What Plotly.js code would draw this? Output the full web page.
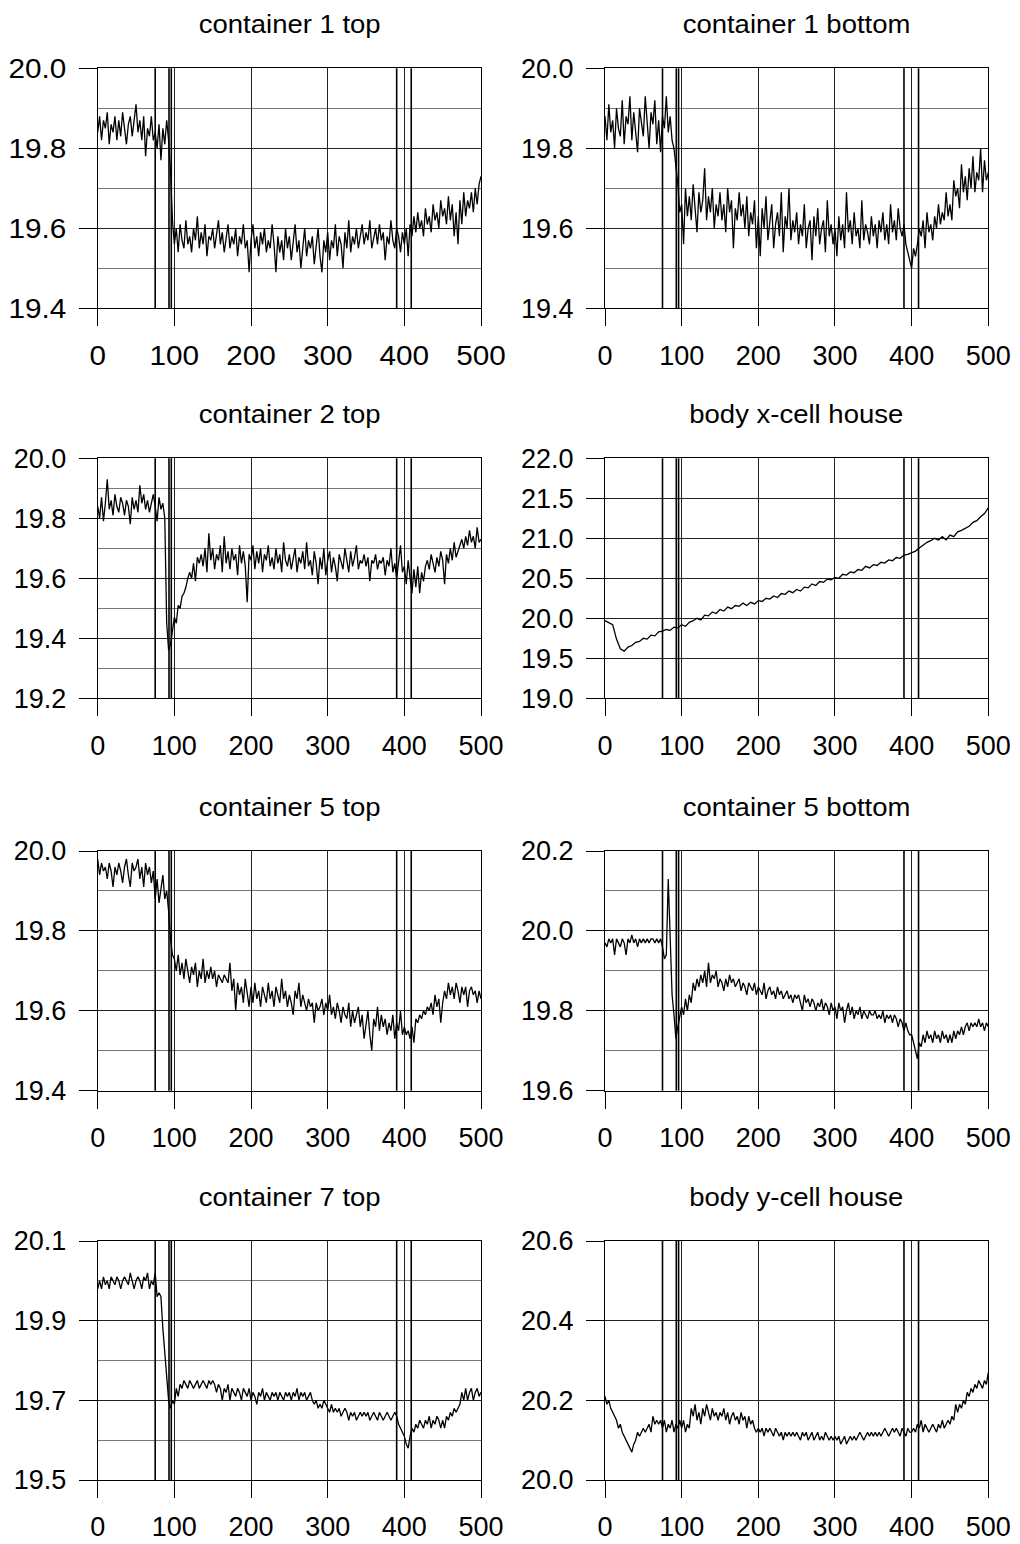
<!DOCTYPE html>
<html>
<head>
<meta charset="utf-8">
<script src="https://cdn.plot.ly/plotly-3.0.1.min.js"></script>
<style>html,body{margin:0;padding:0;background:#fff;}#chart{width:1020px;height:1544px;}</style>
</head>
<body>
<div id="chart"></div>
<script>
// ---------------- data ----------------
const panelTitles = ["container 1 top", "container 1 bottom", "container 2 top", "body x-cell house",
                     "container 5 top", "container 5 bottom", "container 7 top", "body y-cell house"];
const eventTimes = [75, 93, 96, 390, 409];
const xTickValues = [0, 100, 200, 300, 400, 500];

const container1Top = [
19.84,19.88,19.82,19.87,19.85,19.89,19.81,19.86,19.84,19.88,19.82,19.87,19.83,19.89,19.85,19.81,19.86,19.88,19.83,19.87,
19.91,19.84,19.87,19.82,19.88,19.78,19.85,19.83,19.88,19.82,19.84,19.80,19.86,19.77,19.85,19.81,19.87,19.82,19.74,19.62,
19.56,19.60,19.54,19.61,19.57,19.55,19.62,19.56,19.58,19.54,19.60,19.57,19.63,19.55,19.59,19.56,19.61,19.53,19.58,19.57,
19.60,19.55,19.58,19.62,19.56,19.59,19.54,19.57,19.61,19.55,19.58,19.56,19.60,19.53,19.58,19.56,19.61,19.55,19.57,19.49,
19.57,19.61,19.55,19.58,19.53,19.59,19.56,19.60,19.54,19.57,19.55,19.61,19.56,19.49,19.58,19.54,19.57,19.52,19.60,19.55,
19.58,19.52,19.56,19.61,19.54,19.57,19.50,19.56,19.60,19.53,19.57,19.55,19.58,19.51,19.56,19.60,19.53,19.49,19.57,19.54,
19.59,19.52,19.57,19.55,19.61,19.53,19.58,19.56,19.50,19.59,19.55,19.62,19.54,19.58,19.56,19.60,19.55,19.58,19.61,19.56,
19.59,19.57,19.62,19.55,19.58,19.60,19.56,19.61,19.57,19.59,19.52,19.58,19.56,19.62,19.57,19.55,19.60,19.58,19.54,19.59,
19.56,19.60,19.53,19.61,19.58,19.63,19.59,19.64,19.60,19.62,19.58,19.65,19.61,19.63,19.59,19.66,19.62,19.64,19.60,19.67,
19.63,19.65,19.61,19.68,19.62,19.66,19.58,19.64,19.56,19.67,19.61,19.69,19.63,19.67,19.65,19.69,19.64,19.70,19.66,19.71,
19.73];

const container1Bottom = [
19.88,19.82,19.91,19.84,19.87,19.80,19.90,19.85,19.83,19.92,19.81,19.88,19.86,19.93,19.82,19.89,19.84,19.79,19.90,19.86,
19.83,19.93,19.85,19.80,19.89,19.86,19.92,19.81,19.87,19.79,19.88,19.85,19.93,19.84,19.88,19.82,19.80,19.76,19.71,19.64,
19.66,19.56,19.70,19.63,19.68,19.62,19.71,19.65,19.59,19.69,19.64,19.67,19.75,19.62,19.68,19.64,19.70,19.60,19.66,19.63,
19.69,19.62,19.66,19.59,19.70,19.64,19.67,19.55,19.65,19.62,19.69,19.63,19.66,19.60,19.68,19.58,19.64,19.61,19.67,19.55,
19.63,19.53,19.65,19.60,19.68,19.57,19.62,19.66,19.55,19.61,19.64,19.58,19.69,19.54,19.63,19.60,19.70,19.57,19.62,19.59,
19.64,19.56,19.61,19.58,19.66,19.55,19.60,19.62,19.52,19.63,19.58,19.65,19.56,19.60,19.62,19.54,19.67,19.58,19.61,19.56,
19.60,19.53,19.63,19.57,19.61,19.55,19.69,19.59,19.62,19.56,19.64,19.58,19.60,19.55,19.67,19.57,19.61,19.59,19.56,19.63,
19.58,19.61,19.55,19.62,19.59,19.64,19.57,19.61,19.56,19.66,19.59,19.62,19.57,19.65,19.60,19.58,19.61,19.56,19.54,19.52,
19.50,19.55,19.53,19.56,19.60,19.58,19.62,19.55,19.64,19.59,19.61,19.57,19.63,19.60,19.66,19.61,19.64,19.62,19.69,19.63,
19.66,19.62,19.72,19.68,19.70,19.65,19.76,19.69,19.73,19.67,19.75,19.70,19.78,19.69,19.74,19.72,19.80,19.69,19.77,19.72,
19.74];

const container2Top = [
19.84,19.80,19.87,19.79,19.85,19.93,19.83,19.86,19.81,19.88,19.84,19.82,19.87,19.85,19.81,19.86,19.84,19.78,19.87,19.83,
19.86,19.82,19.91,19.85,19.88,19.83,19.86,19.82,19.85,19.88,19.84,19.79,19.87,19.83,19.85,19.80,19.45,19.36,19.38,19.42,
19.47,19.45,19.51,19.50,19.54,19.55,19.57,19.60,19.62,19.60,19.65,19.59,19.67,19.65,19.68,19.64,19.70,19.62,19.75,19.66,
19.70,19.63,19.68,19.66,19.71,19.62,19.74,19.65,19.69,19.63,19.70,19.66,19.68,19.61,19.71,19.65,19.69,19.64,19.52,19.68,
19.66,19.71,19.63,19.69,19.65,19.70,19.62,19.68,19.66,19.71,19.64,19.67,19.63,19.70,19.65,19.68,19.62,19.72,19.66,19.64,
19.68,19.63,19.66,19.70,19.62,19.67,19.65,19.69,19.63,19.72,19.64,19.66,19.61,19.69,19.65,19.58,19.67,19.63,19.70,19.61,
19.66,19.69,19.62,19.67,19.64,19.59,19.68,19.65,19.63,19.70,19.66,19.62,19.69,19.64,19.67,19.71,19.63,19.66,19.65,19.68,
19.64,19.67,19.59,19.66,19.65,19.68,19.63,19.66,19.65,19.67,19.61,19.66,19.64,19.70,19.62,19.65,19.60,19.66,19.71,19.62,
19.64,19.58,19.66,19.60,19.55,19.63,19.57,19.64,19.55,19.62,19.59,19.64,19.66,19.63,19.68,19.65,19.62,19.67,19.64,19.69,
19.66,19.58,19.68,19.65,19.70,19.66,19.72,19.67,19.69,19.71,19.73,19.70,19.74,19.71,19.76,19.72,19.74,19.70,19.77,19.72,
19.73];

// body x-cell house is sampled every 5 time units
const bodyXCellHouse = [
19.97,19.95,19.92,19.74,19.62,19.59,19.64,19.66,19.70,19.71,
19.75,19.74,19.79,19.78,19.83,19.84,19.86,19.85,19.89,19.88,
19.92,19.90,19.95,19.97,20.00,19.98,20.04,20.03,20.08,20.06,
20.11,20.09,20.14,20.12,20.16,20.15,20.19,20.16,20.20,20.18,
20.22,20.21,20.25,20.24,20.28,20.26,20.31,20.30,20.34,20.32,
20.36,20.34,20.39,20.38,20.43,20.41,20.46,20.45,20.49,20.48,
20.51,20.50,20.55,20.54,20.58,20.57,20.61,20.60,20.65,20.63,
20.67,20.66,20.70,20.69,20.73,20.72,20.76,20.75,20.79,20.80,
20.82,20.84,20.88,20.92,20.95,20.97,21.00,20.98,21.02,20.98,
21.04,21.02,21.08,21.10,21.13,21.15,21.20,21.22,21.27,21.31,
21.38];

const container5Top = [
19.98,19.94,19.97,19.95,19.96,19.93,19.97,19.95,19.91,19.96,19.94,19.97,19.95,19.92,19.96,19.98,19.94,19.91,19.97,19.95,
19.96,19.98,19.93,19.96,19.91,19.97,19.94,19.96,19.92,19.95,19.88,19.93,19.87,19.91,19.94,19.88,19.90,19.85,19.78,19.74,
19.73,19.70,19.74,19.69,19.72,19.68,19.73,19.70,19.67,19.71,19.69,19.72,19.66,19.70,19.68,19.73,19.67,19.70,19.68,19.71,
19.68,19.70,19.66,19.69,19.68,19.67,19.69,19.68,19.67,19.72,19.65,19.68,19.60,19.67,19.64,19.66,19.62,19.68,19.64,19.61,
19.66,19.62,19.67,19.63,19.65,19.61,19.66,19.64,19.62,19.67,19.63,19.65,19.61,19.66,19.64,19.62,19.68,19.63,19.65,19.61,
19.64,19.62,19.59,19.65,19.63,19.67,19.61,19.64,19.62,19.60,19.63,19.61,19.62,19.57,19.62,19.60,19.61,19.63,19.59,19.62,
19.60,19.64,19.59,19.61,19.58,19.62,19.60,19.57,19.61,19.59,19.58,19.62,19.56,19.60,19.57,19.59,19.61,19.56,19.59,19.53,
19.57,19.60,19.54,19.50,19.58,19.56,19.61,19.55,19.59,19.56,19.58,19.54,19.57,19.55,19.59,19.53,19.57,19.55,19.60,19.54,
19.56,19.54,19.55,19.53,19.56,19.52,19.58,19.57,19.59,19.58,19.60,19.59,19.61,19.60,19.62,19.59,19.64,19.61,19.63,19.57,
19.62,19.65,19.63,19.67,19.64,19.66,19.63,19.67,19.65,19.62,19.66,19.64,19.66,19.61,19.65,19.66,19.64,19.65,19.62,19.65,
19.63];

const container5Bottom = [
19.97,19.96,19.98,19.97,19.98,19.94,19.98,19.97,19.96,19.98,19.97,19.94,19.98,19.97,19.99,19.97,19.98,19.96,19.98,19.97,
19.98,19.97,19.98,19.97,19.98,19.98,19.97,19.98,19.97,19.98,19.96,19.93,19.94,20.13,19.98,19.84,19.79,19.73,19.76,19.79,
19.81,19.79,19.83,19.80,19.84,19.82,19.87,19.85,19.88,19.86,19.89,19.87,19.90,19.86,19.92,19.87,19.89,19.88,19.90,19.86,
19.88,19.87,19.85,19.88,19.86,19.89,19.87,19.88,19.86,19.87,19.88,19.85,19.87,19.86,19.84,19.87,19.86,19.85,19.87,19.84,
19.86,19.85,19.84,19.87,19.83,19.85,19.86,19.84,19.85,19.83,19.86,19.84,19.85,19.83,19.84,19.85,19.83,19.84,19.82,19.84,
19.83,19.84,19.82,19.80,19.84,19.82,19.83,19.81,19.83,19.82,19.80,19.82,19.81,19.83,19.80,19.82,19.81,19.79,19.82,19.80,
19.81,19.78,19.82,19.80,19.81,19.77,19.80,19.82,19.79,19.81,19.78,19.80,19.79,19.81,19.78,19.80,19.79,19.78,19.80,19.79,
19.79,19.80,19.78,19.79,19.78,19.80,19.77,19.79,19.78,19.79,19.77,19.79,19.78,19.76,19.78,19.77,19.75,19.77,19.75,19.74,
19.74,19.72,19.70,19.68,19.72,19.71,19.74,19.72,19.75,19.73,19.74,19.72,19.75,19.73,19.74,19.72,19.75,19.73,19.74,19.72,
19.74,19.72,19.75,19.73,19.75,19.74,19.76,19.74,19.76,19.77,19.75,19.77,19.76,19.77,19.76,19.78,19.76,19.77,19.75,19.77,
19.76];

const container7Top = [
19.98,20.00,19.98,20.01,19.99,20.00,19.98,20.01,20.00,19.99,20.01,20.00,19.98,20.00,20.01,20.00,19.99,20.02,20.00,19.98,
20.00,20.01,20.00,19.98,20.01,20.00,20.02,19.98,20.00,19.99,20.02,19.96,19.97,19.96,19.88,19.82,19.75,19.70,19.68,19.70,
19.69,19.73,19.71,19.74,19.73,19.75,19.74,19.73,19.75,19.74,19.73,19.74,19.75,19.73,19.74,19.75,19.74,19.73,19.75,19.74,
19.75,19.74,19.72,19.74,19.73,19.70,19.73,19.72,19.74,19.70,19.73,19.72,19.71,19.73,19.72,19.70,19.73,19.72,19.71,19.73,
19.70,19.72,19.71,19.69,19.72,19.71,19.73,19.70,19.72,19.71,19.70,19.72,19.71,19.72,19.70,19.72,19.71,19.70,19.72,19.71,
19.72,19.70,19.72,19.71,19.73,19.70,19.72,19.71,19.72,19.70,19.71,19.72,19.70,19.69,19.70,19.68,19.69,19.68,19.70,19.69,
19.68,19.67,19.69,19.67,19.68,19.67,19.68,19.66,19.67,19.68,19.67,19.65,19.67,19.66,19.67,19.65,19.66,19.67,19.66,19.67,
19.66,19.67,19.65,19.66,19.67,19.66,19.65,19.67,19.66,19.65,19.66,19.67,19.66,19.65,19.66,19.67,19.66,19.64,19.63,19.62,
19.61,19.59,19.58,19.61,19.63,19.62,19.64,19.63,19.65,19.64,19.63,19.65,19.64,19.66,19.63,19.65,19.64,19.66,19.65,19.63,
19.65,19.63,19.66,19.65,19.67,19.66,19.68,19.67,19.68,19.69,19.72,19.70,19.73,19.70,19.72,19.73,19.70,19.72,19.73,19.71,
19.72];

const bodyYCellHouse = [
20.21,20.19,20.20,20.18,20.17,20.16,20.15,20.13,20.14,20.12,20.11,20.10,20.09,20.08,20.07,20.09,20.10,20.12,20.11,20.12,
20.13,20.12,20.13,20.14,20.12,20.16,20.14,20.15,20.14,20.15,20.13,20.15,20.12,20.14,20.13,20.15,20.12,20.14,20.13,20.15,
20.13,20.15,20.12,20.14,20.13,20.18,20.16,20.19,20.15,20.17,20.14,20.18,20.16,20.19,20.17,20.15,20.18,20.16,20.17,20.15,
20.17,20.16,20.18,20.15,20.17,20.14,20.16,20.17,20.15,20.16,20.14,20.17,20.15,20.16,20.13,20.16,20.14,20.15,20.13,20.12,
20.13,20.12,20.13,20.11,20.13,20.12,20.13,20.12,20.11,20.13,20.12,20.11,20.12,20.10,20.12,20.11,20.12,20.11,20.12,20.11,
20.12,20.11,20.10,20.12,20.11,20.12,20.10,20.11,20.12,20.10,20.11,20.12,20.10,20.11,20.10,20.12,20.11,20.10,20.11,20.10,
20.11,20.10,20.11,20.09,20.10,20.11,20.09,20.10,20.11,20.10,20.11,20.10,20.11,20.12,20.11,20.10,20.11,20.12,20.11,20.12,
20.11,20.12,20.11,20.12,20.11,20.12,20.13,20.12,20.11,20.12,20.13,20.12,20.13,20.12,20.11,20.13,20.12,20.11,20.13,20.12,
20.12,20.13,20.12,20.14,20.13,20.15,20.12,20.14,20.13,20.12,20.13,20.14,20.13,20.12,20.14,20.13,20.15,20.13,20.14,20.15,
20.14,20.16,20.15,20.19,20.17,20.19,20.18,20.20,20.19,20.22,20.21,20.23,20.22,20.24,20.23,20.25,20.24,20.23,20.25,20.24,
20.27];

const seriesValues = [container1Top, container1Bottom, container2Top, bodyXCellHouse,
                      container5Top, container5Bottom, container7Top, bodyYCellHouse];
const sampleSteps = [2.5, 2.5, 2.5, 5, 2.5, 2.5, 2.5, 2.5];
const yRanges = [[19.4, 20.0], [19.4, 20.0], [19.2, 20.0], [19.0, 22.0],
                 [19.4, 20.0], [19.6, 20.2], [19.5, 20.1], [20.0, 20.6]];
const yTickSteps = [0.2, 0.2, 0.2, 0.5, 0.2, 0.2, 0.2, 0.2];
const yMinorSteps = [0.1, 0.1, 0.1, null, 0.1, 0.1, 0.1, null];

// ---------------- layout geometry (pixels) ----------------
const W = 1020, H = 1544;
const cols = [[97.7, 481.0], [605.0, 988.3]];
const rows = [[68.3, 308.3], [458.3, 698.3], [851.0, 1090.7], [1241.0, 1480.0]];
const FONT = '"Liberation Sans", Arial, sans-serif';

const traces = [];
const shapes = [];
const annotations = [];
const layout = {
  width: W, height: H,
  margin: {l: 0, r: 0, t: 0, b: 0},
  paper_bgcolor: '#fff', plot_bgcolor: '#fff',
  showlegend: false,
  font: {family: FONT, color: '#000'},
  shapes: shapes, annotations: annotations
};

seriesValues.forEach((vals, i) => {
  const r = Math.floor(i / 2), c = i % 2;
  const n = i + 1;
  const xa = 'xaxis' + (n === 1 ? '' : n), ya = 'yaxis' + (n === 1 ? '' : n);
  const xr = 'x' + (n === 1 ? '' : n), yr = 'y' + (n === 1 ? '' : n);
  const xs = vals.map((_, k) => k * sampleSteps[i]);
  traces.push({x: xs, y: vals, type: 'scatter', mode: 'lines', xaxis: xr, yaxis: yr,
               line: {color: '#000', width: 1.3}, hoverinfo: 'skip'});
  const xd = [cols[c][0] / W, cols[c][1] / W];
  const yd = [1 - rows[r][1] / H, 1 - rows[r][0] / H];
  layout[xa] = {
    domain: xd, anchor: yr, range: [0, 500], tickvals: xTickValues, ticktext: xTickValues.map(String),
    showgrid: true, gridcolor: '#222', gridwidth: 1, zeroline: false,
    showline: true, mirror: true, linecolor: '#000', linewidth: 1,
    ticks: 'outside', ticklen: 17, tickcolor: '#000', tickwidth: 1, ticklabelstandoff: 6,
    tickfont: {family: FONT, size: 27, color: '#000'}, fixedrange: true
  };
  const yax = {
    domain: yd, anchor: xr, range: yRanges[i], tick0: yRanges[i][0], dtick: yTickSteps[i],
    tickformat: '.1f',
    showgrid: true, gridcolor: '#222', gridwidth: 1, zeroline: false,
    showline: true, mirror: true, linecolor: '#000', linewidth: 1,
    ticks: 'outside', ticklen: 18, tickcolor: '#000', tickwidth: 1, ticklabelstandoff: 7,
    tickfont: {family: FONT, size: 27, color: '#000'}, fixedrange: true
  };
  if (yMinorSteps[i]) {
    yax.minor = {dtick: yMinorSteps[i], tick0: yRanges[i][0], showgrid: true, gridcolor: '#777', gridwidth: 1, ticks: ''};
  }
  layout[ya] = yax;
  eventTimes.forEach(t => {
    shapes.push({type: 'line', xref: xr, yref: yr + ' domain', x0: t, x1: t, y0: 0, y1: 1,
                 line: {color: '#000', width: 1.6}, layer: 'above'});
  });
  annotations.push({
    text: panelTitles[i], xref: 'paper', yref: 'paper',
    x: (xd[0] + xd[1]) / 2, y: yd[1], yshift: 44, xanchor: 'center', yanchor: 'middle',
    showarrow: false, font: {family: FONT, size: 25, color: '#000'}
  });
});

Plotly.newPlot('chart', traces, layout, {staticPlot: true}).then(() => {
  // the reference typeface is slightly wider than Liberation Sans: widen the glyphs
  document.querySelectorAll('.xtick text, .ytick text, .annotation-text').forEach(t => {
    const w = t.getComputedTextLength();
    if (w > 0) {
      t.setAttribute('textLength', (w * 1.1).toFixed(1));
      t.setAttribute('lengthAdjust', 'spacingAndGlyphs');
    }
  });
});
</script>
</body>
</html>
